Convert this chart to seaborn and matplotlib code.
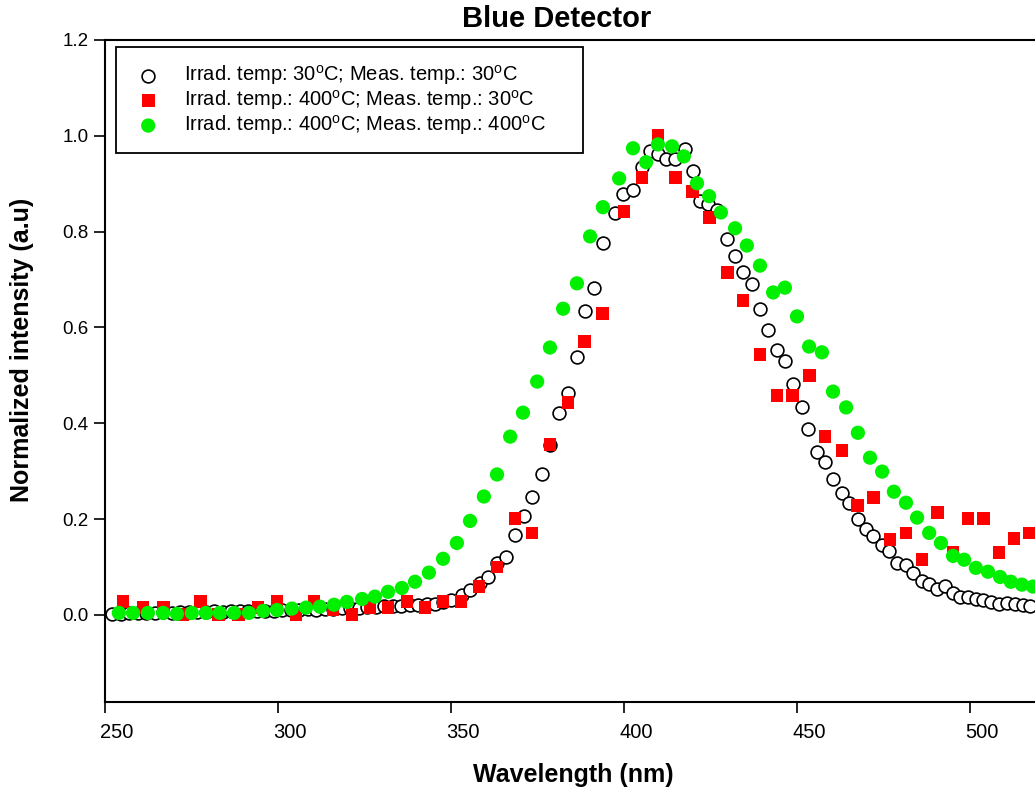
import matplotlib
matplotlib.use("Agg")
import matplotlib.pyplot as plt
import matplotlib.transforms as mtransforms
import seaborn as sns
import pandas as pd

# --- data -------------------------------------------------------------
# Irrad. 30 C / Meas. 30 C (open circles)
wl_30_30 = [252.0, 254.6, 256.9, 259.5, 261.8, 264.5, 266.8, 269.4, 271.7, 274.3,
            276.6, 279.2, 281.5, 284.1, 286.4, 289.0, 291.3, 293.9, 296.2, 298.8,
            301.2, 303.8, 306.1, 308.7, 311.0, 313.6, 315.9, 318.5, 320.8, 323.4,
            325.7, 328.3, 330.6, 333.2, 335.5, 338.2, 340.5, 343.1, 345.4, 347.7,
            350.0, 353.2, 355.5, 358.4, 360.7, 363.3, 365.9, 368.5, 371.1, 373.4,
            376.3, 378.6, 381.2, 383.8, 386.4, 388.7, 391.3, 393.9, 397.4, 399.7,
            402.6, 405.2, 407.5, 409.8, 412.1, 414.7, 417.6, 419.9, 422.0, 424.3,
            426.9, 429.8, 432.1, 434.4, 437.0, 439.3, 441.6, 444.2, 446.5, 448.8,
            451.4, 453.2, 455.8, 458.1, 460.4, 463.0, 465.0, 467.6, 469.9, 472.0,
            474.6, 476.6, 478.9, 481.5, 483.5, 486.1, 488.2, 490.5, 492.8, 495.1,
            497.1, 499.4, 501.7, 503.8, 506.1, 508.4, 510.7, 513.0, 515.3, 517.3]
int_30_30 = [0.002, 0.002, 0.003, 0.004, 0.003, 0.004, 0.005, 0.004, 0.005, 0.006,
             0.005, 0.006, 0.007, 0.006, 0.007, 0.008, 0.007, 0.008, 0.009, 0.009,
             0.010, 0.010, 0.011, 0.012, 0.011, 0.012, 0.013, 0.014, 0.014, 0.015,
             0.016, 0.017, 0.018, 0.018, 0.019, 0.020, 0.021, 0.022, 0.023, 0.026,
             0.031, 0.042, 0.052, 0.067, 0.079, 0.109, 0.121, 0.167, 0.207, 0.245,
             0.293, 0.355, 0.422, 0.464, 0.539, 0.635, 0.683, 0.777, 0.838, 0.878,
             0.886, 0.934, 0.968, 0.961, 0.951, 0.951, 0.972, 0.926, 0.863, 0.857,
             0.846, 0.784, 0.750, 0.715, 0.690, 0.639, 0.594, 0.552, 0.529, 0.481,
             0.433, 0.387, 0.339, 0.318, 0.284, 0.255, 0.234, 0.199, 0.180, 0.165,
             0.146, 0.134, 0.109, 0.104, 0.088, 0.071, 0.065, 0.054, 0.061, 0.046,
             0.038, 0.038, 0.033, 0.031, 0.027, 0.023, 0.025, 0.023, 0.021, 0.019]

# Irrad. 400 C / Meas. 30 C (red squares)
wl_400_30 = [255.2, 261.0, 266.8, 272.3, 277.5, 282.9, 288.7, 294.2, 299.7, 305.2,
             310.4, 315.9, 321.4, 326.6, 331.8, 337.3, 342.5, 347.7, 352.9, 358.1,
             363.3, 368.5, 373.4, 378.6, 383.8, 388.7, 393.9, 400.0, 405.2, 409.8,
             415.0, 419.9, 424.6, 429.8, 434.4, 439.3, 444.2, 448.8, 453.5, 458.1,
             463.0, 467.6, 472.0, 476.9, 481.5, 486.1, 490.5, 495.1, 499.4, 503.8,
             508.4, 512.7, 517.1]
int_400_30 = [0.027, 0.015, 0.015, 0.000, 0.027, 0.000, 0.000, 0.015, 0.027, 0.000,
              0.027, 0.010, 0.000, 0.015, 0.015, 0.027, 0.015, 0.027, 0.027, 0.059,
              0.100, 0.201, 0.171, 0.355, 0.443, 0.571, 0.629, 0.842, 0.913, 1.000,
              0.913, 0.884, 0.830, 0.715, 0.656, 0.543, 0.458, 0.458, 0.499, 0.372,
              0.343, 0.228, 0.245, 0.157, 0.171, 0.115, 0.213, 0.130, 0.201, 0.201,
              0.130, 0.159, 0.171]

# Irrad. 400 C / Meas. 400 C (green dots)
wl_400_400 = [254.0, 258.1, 262.4, 266.8, 270.8, 275.1, 279.2, 283.2, 287.3, 291.6,
              295.7, 299.7, 304.0, 308.1, 312.1, 316.2, 319.9, 324.3, 328.0, 331.8,
              335.8, 339.6, 343.6, 347.7, 351.7, 355.5, 359.5, 363.3, 367.1, 370.8,
              374.9, 378.6, 382.4, 386.4, 390.2, 393.9, 398.6, 402.6, 406.4, 409.8,
              413.9, 417.3, 421.1, 424.6, 428.0, 432.1, 435.5, 439.3, 443.1, 446.5,
              450.0, 453.5, 457.2, 460.4, 464.2, 467.6, 471.1, 474.6, 478.0, 481.5,
              484.7, 488.2, 491.6, 495.1, 498.3, 501.7, 505.2, 508.7, 511.8, 515.0,
              518.2]
int_400_400 = [0.004, 0.004, 0.004, 0.004, 0.002, 0.004, 0.004, 0.004, 0.004, 0.004,
               0.008, 0.010, 0.013, 0.015, 0.017, 0.021, 0.027, 0.033, 0.038, 0.048,
               0.056, 0.069, 0.088, 0.117, 0.150, 0.196, 0.247, 0.293, 0.372, 0.422,
               0.487, 0.558, 0.639, 0.692, 0.790, 0.851, 0.911, 0.974, 0.945, 0.982,
               0.978, 0.957, 0.901, 0.874, 0.840, 0.807, 0.771, 0.729, 0.673, 0.683,
               0.623, 0.560, 0.548, 0.466, 0.433, 0.380, 0.328, 0.299, 0.257, 0.234,
               0.203, 0.171, 0.150, 0.123, 0.115, 0.098, 0.090, 0.079, 0.069, 0.063,
               0.059]

labels = [
    r"Irrad. temp: 30$^\mathrm{o}$C; Meas. temp.: 30$^\mathrm{o}$C",
    r"Irrad. temp.: 400$^\mathrm{o}$C; Meas. temp.: 30$^\mathrm{o}$C",
    r"Irrad. temp.: 400$^\mathrm{o}$C; Meas. temp.: 400$^\mathrm{o}$C",
]
x_ticks = [250, 300, 350, 400, 450, 500]
y_ticks = [0.0, 0.2, 0.4, 0.6, 0.8, 1.0, 1.2]

# --- style ------------------------------------------------------------
sns.set_style("ticks")
plt.rcParams["font.family"] = ["Liberation Sans", "DejaVu Sans"]
plt.rcParams["mathtext.fontset"] = "custom"
plt.rcParams["mathtext.rm"] = "Liberation Sans"
plt.rcParams["mathtext.it"] = "Liberation Sans:italic"
plt.rcParams["mathtext.bf"] = "Liberation Sans:bold"
plt.rcParams["text.color"] = "black"
plt.rcParams["axes.labelcolor"] = "black"
plt.rcParams["xtick.color"] = "black"
plt.rcParams["ytick.color"] = "black"

fig = plt.figure(figsize=(10.35, 7.93), dpi=100)
ax = fig.add_axes([105 / 1035, 91 / 793, 930 / 1035, 662 / 793])

df_a = pd.DataFrame({"wl": wl_30_30, "val": int_30_30})
df_b = pd.DataFrame({"wl": wl_400_30, "val": int_400_30})
df_c = pd.DataFrame({"wl": wl_400_400, "val": int_400_400})

sns.scatterplot(data=df_a, x="wl", y="val", ax=ax, marker="o", s=85,
                facecolor="white", edgecolor="black", linewidth=1.2,
                label=labels[0], zorder=3)
sns.scatterplot(data=df_b, x="wl", y="val", ax=ax, marker="s", s=85,
                color="#ff0000", edgecolor="none", linewidth=0,
                label=labels[1], zorder=4)
sns.scatterplot(data=df_c, x="wl", y="val", ax=ax, marker="o", s=105,
                color="#00f000", edgecolor="none", linewidth=0,
                label=labels[2], zorder=5)

ax.set_xlim(250, 250 + 930 / 3.46)
ax.set_ylim(-0.182, 1.2)
ax.set_xticks(x_ticks)
ax.set_yticks(y_ticks)
ax.set_yticklabels([f"{v:.1f}" for v in y_ticks])
ax.tick_params(axis="both", direction="out", length=8, width=1.2,
               colors="black")
ax.tick_params(axis="x", labelsize=14.5, pad=7)
ax.tick_params(axis="y", labelsize=13.5, pad=4)
# x tick labels sit slightly right of their ticks
shift = mtransforms.ScaledTranslation(12 / 100, 0, fig.dpi_scale_trans)
for lbl in ax.get_xticklabels():
    lbl.set_transform(lbl.get_transform() + shift)
for side in ("left", "bottom", "top"):
    ax.spines[side].set_color("black")
    ax.spines[side].set_linewidth(1.5)
ax.spines["right"].set_visible(False)

ax.set_xlabel("")
ax.set_ylabel("")
fig.text(573 / 1035, 1 - 775 / 793, "Wavelength (nm)", ha="center", va="center",
         fontsize=18, fontweight="bold")
fig.text(22 / 1035, 1 - 350 / 793, "Normalized intensity (a.u)", ha="center",
         va="center", rotation=90, fontsize=18, fontweight="bold")
fig.text(557 / 1035, 1 - 19 / 793, "Blue Detector", ha="center", va="center",
         fontsize=21, fontweight="bold")

leg = ax.legend(loc="upper left", mode="expand",
                bbox_to_anchor=(11 / 930, 1 - 7 / 662, 467 / 930, 0.0),
                fontsize=14.5, frameon=True, fancybox=False, framealpha=1,
                edgecolor="black", borderpad=0.8, handletextpad=1.0,
                labelspacing=0.05, borderaxespad=0, markerscale=1.0,
                handlelength=1.6)
leg.get_frame().set_linewidth(1.3)

fig.savefig("out.png", dpi=100, facecolor="white")
